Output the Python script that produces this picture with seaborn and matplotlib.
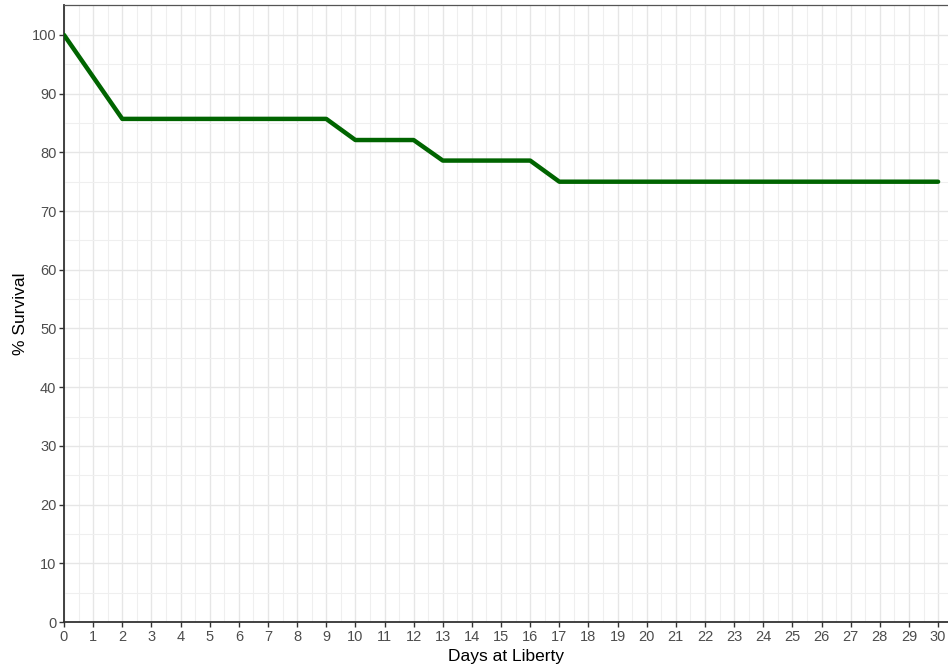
import numpy as np
import pandas as pd
import matplotlib
matplotlib.use("Agg")
import matplotlib.pyplot as plt
import seaborn as sns

# survival curve
days = [0, 2, 3, 4, 5, 6, 7, 8, 9, 10, 11, 12, 13, 14, 15, 16, 17, 18, 19, 20,
        21, 22, 23, 24, 25, 26, 27, 28, 29, 30]
survival = [100, 85.7, 85.7, 85.7, 85.7, 85.7, 85.7, 85.7, 85.7, 82.1, 82.1, 82.1,
            78.6, 78.6, 78.6, 78.6, 75, 75, 75, 75, 75, 75, 75, 75, 75, 75, 75, 75, 75, 75]
x_ticks = list(range(0, 31))
y_ticks = list(range(0, 101, 10))

sns.set_style("white")
plt.rcParams['font.family'] = ['Liberation Sans', 'DejaVu Sans']

df = pd.DataFrame({"Days": days, "Survival": survival})

fig = plt.figure(figsize=(9.48, 6.67), dpi=100)
ax = fig.add_axes([64 / 948, 45 / 667, 884 / 948, 617 / 667])

sns.lineplot(data=df, x="Days", y="Survival", color="#006400", linewidth=3.2, ax=ax, zorder=3)

ax.set_xlim(0, 30.34)
ax.set_ylim(0, 105.1)
ax.set_xticks(x_ticks)
ax.set_yticks(y_ticks)
ax.set_xticks(np.arange(0.5, 30.5, 1), minor=True)
ax.set_yticks(np.arange(5, 105, 10), minor=True)
ax.grid(which="major", color="#E6E6E6", linewidth=1.0)
ax.grid(which="minor", color="#EFEFEF", linewidth=0.8)
ax.set_axisbelow(True)

ax.tick_params(which="major", direction="out", length=3.5, width=1, color="#333333",
               labelsize=10.5, labelcolor="#4D4D4D", pad=2, bottom=True, left=True)
ax.tick_params(which="minor", length=0)

for s in ["left", "bottom"]:
    ax.spines[s].set_color("#333333")
    ax.spines[s].set_linewidth(1.3)
ax.spines["top"].set_color("#555555")
ax.spines["top"].set_linewidth(0.9)
ax.spines["right"].set_visible(False)

ax.set_xlabel("Days at Liberty", fontsize=12.5, color="black", labelpad=4)
ax.set_ylabel("% Survival", fontsize=12.5, color="black", labelpad=3)

fig.savefig("out.png", dpi=100)
